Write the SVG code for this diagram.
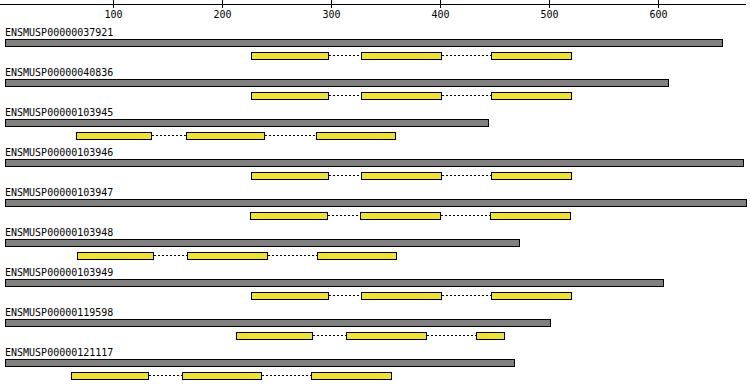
<svg xmlns="http://www.w3.org/2000/svg" width="750" height="388" viewBox="0 0 750 388">
<style>
text{font-family:"DejaVu Sans Mono","Liberation Mono",monospace;font-size:10px;fill:#000}
.ax{stroke:#000;stroke-width:1;fill:none}
.tl{text-anchor:middle}
.bar{fill:#808080;stroke:#000;stroke-width:1}
.ex{fill:#eee236;stroke:#000;stroke-width:1}
.con{stroke:#000;stroke-width:1;stroke-dasharray:2,2;fill:none}
</style>
<rect width="750" height="388" fill="#fff"/>
<g id="axis">
<line class="ax" x1="0" y1="4.5" x2="746" y2="4.5"/>
<line class="ax" x1="113.5" y1="0" x2="113.5" y2="8"/>
<line class="ax" x1="222.5" y1="0" x2="222.5" y2="8"/>
<line class="ax" x1="331.5" y1="0" x2="331.5" y2="8"/>
<line class="ax" x1="440.5" y1="0" x2="440.5" y2="8"/>
<line class="ax" x1="549.5" y1="0" x2="549.5" y2="8"/>
<line class="ax" x1="658.5" y1="0" x2="658.5" y2="8"/>
<text class="tl" x="113.5" y="18">100</text>
<text class="tl" x="222.5" y="18">200</text>
<text class="tl" x="331.5" y="18">300</text>
<text class="tl" x="440.5" y="18">400</text>
<text class="tl" x="549.5" y="18">500</text>
<text class="tl" x="658.5" y="18">600</text>
</g>
<g id="connectors">
<line class="con" x1="329" y1="55.5" x2="361" y2="55.5"/>
<line class="con" x1="442" y1="55.5" x2="491" y2="55.5"/>
<line class="con" x1="329" y1="95.5" x2="361" y2="95.5"/>
<line class="con" x1="442" y1="95.5" x2="491" y2="95.5"/>
<line class="con" x1="152" y1="135.5" x2="186" y2="135.5"/>
<line class="con" x1="265" y1="135.5" x2="316" y2="135.5"/>
<line class="con" x1="329" y1="175.5" x2="361" y2="175.5"/>
<line class="con" x1="442" y1="175.5" x2="491" y2="175.5"/>
<line class="con" x1="328" y1="215.5" x2="360" y2="215.5"/>
<line class="con" x1="441" y1="215.5" x2="490" y2="215.5"/>
<line class="con" x1="154" y1="255.5" x2="187" y2="255.5"/>
<line class="con" x1="268" y1="255.5" x2="317" y2="255.5"/>
<line class="con" x1="329" y1="295.5" x2="361" y2="295.5"/>
<line class="con" x1="442" y1="295.5" x2="491" y2="295.5"/>
<line class="con" x1="313" y1="335.5" x2="346" y2="335.5"/>
<line class="con" x1="427" y1="335.5" x2="476" y2="335.5"/>
<line class="con" x1="149" y1="375.5" x2="182" y2="375.5"/>
<line class="con" x1="262" y1="375.5" x2="311" y2="375.5"/>
</g>
<g id="ENSMUSP00000037921">
<text x="5" y="36">ENSMUSP00000037921</text>
<rect class="bar" x="5.5" y="39.5" width="717" height="7"/>
<rect class="ex" x="251.5" y="52.5" width="77" height="7"/>
<rect class="ex" x="361.5" y="52.5" width="80" height="7"/>
<rect class="ex" x="491.5" y="52.5" width="80" height="7"/>
</g>
<g id="ENSMUSP00000040836">
<text x="5" y="76">ENSMUSP00000040836</text>
<rect class="bar" x="5.5" y="79.5" width="663" height="7"/>
<rect class="ex" x="251.5" y="92.5" width="77" height="7"/>
<rect class="ex" x="361.5" y="92.5" width="80" height="7"/>
<rect class="ex" x="491.5" y="92.5" width="80" height="7"/>
</g>
<g id="ENSMUSP00000103945">
<text x="5" y="116">ENSMUSP00000103945</text>
<rect class="bar" x="5.5" y="119.5" width="483" height="7"/>
<rect class="ex" x="76.5" y="132.5" width="75" height="7"/>
<rect class="ex" x="186.5" y="132.5" width="78" height="7"/>
<rect class="ex" x="316.5" y="132.5" width="79" height="7"/>
</g>
<g id="ENSMUSP00000103946">
<text x="5" y="156">ENSMUSP00000103946</text>
<rect class="bar" x="5.5" y="159.5" width="738" height="7"/>
<rect class="ex" x="251.5" y="172.5" width="77" height="7"/>
<rect class="ex" x="361.5" y="172.5" width="80" height="7"/>
<rect class="ex" x="491.5" y="172.5" width="80" height="7"/>
</g>
<g id="ENSMUSP00000103947">
<text x="5" y="196">ENSMUSP00000103947</text>
<rect class="bar" x="5.5" y="199.5" width="741" height="7"/>
<rect class="ex" x="250.5" y="212.5" width="77" height="7"/>
<rect class="ex" x="360.5" y="212.5" width="80" height="7"/>
<rect class="ex" x="490.5" y="212.5" width="80" height="7"/>
</g>
<g id="ENSMUSP00000103948">
<text x="5" y="236">ENSMUSP00000103948</text>
<rect class="bar" x="5.5" y="239.5" width="514" height="7"/>
<rect class="ex" x="77.5" y="252.5" width="76" height="7"/>
<rect class="ex" x="187.5" y="252.5" width="80" height="7"/>
<rect class="ex" x="317.5" y="252.5" width="79" height="7"/>
</g>
<g id="ENSMUSP00000103949">
<text x="5" y="276">ENSMUSP00000103949</text>
<rect class="bar" x="5.5" y="279.5" width="658" height="7"/>
<rect class="ex" x="251.5" y="292.5" width="77" height="7"/>
<rect class="ex" x="361.5" y="292.5" width="80" height="7"/>
<rect class="ex" x="491.5" y="292.5" width="80" height="7"/>
</g>
<g id="ENSMUSP00000119598">
<text x="5" y="316">ENSMUSP00000119598</text>
<rect class="bar" x="5.5" y="319.5" width="545" height="7"/>
<rect class="ex" x="236.5" y="332.5" width="76" height="7"/>
<rect class="ex" x="346.5" y="332.5" width="80" height="7"/>
<rect class="ex" x="476.5" y="332.5" width="28" height="7"/>
</g>
<g id="ENSMUSP00000121117">
<text x="5" y="356">ENSMUSP00000121117</text>
<rect class="bar" x="5.5" y="359.5" width="509" height="7"/>
<rect class="ex" x="71.5" y="372.5" width="77" height="7"/>
<rect class="ex" x="182.5" y="372.5" width="79" height="7"/>
<rect class="ex" x="311.5" y="372.5" width="80" height="7"/>
</g>
</svg>
